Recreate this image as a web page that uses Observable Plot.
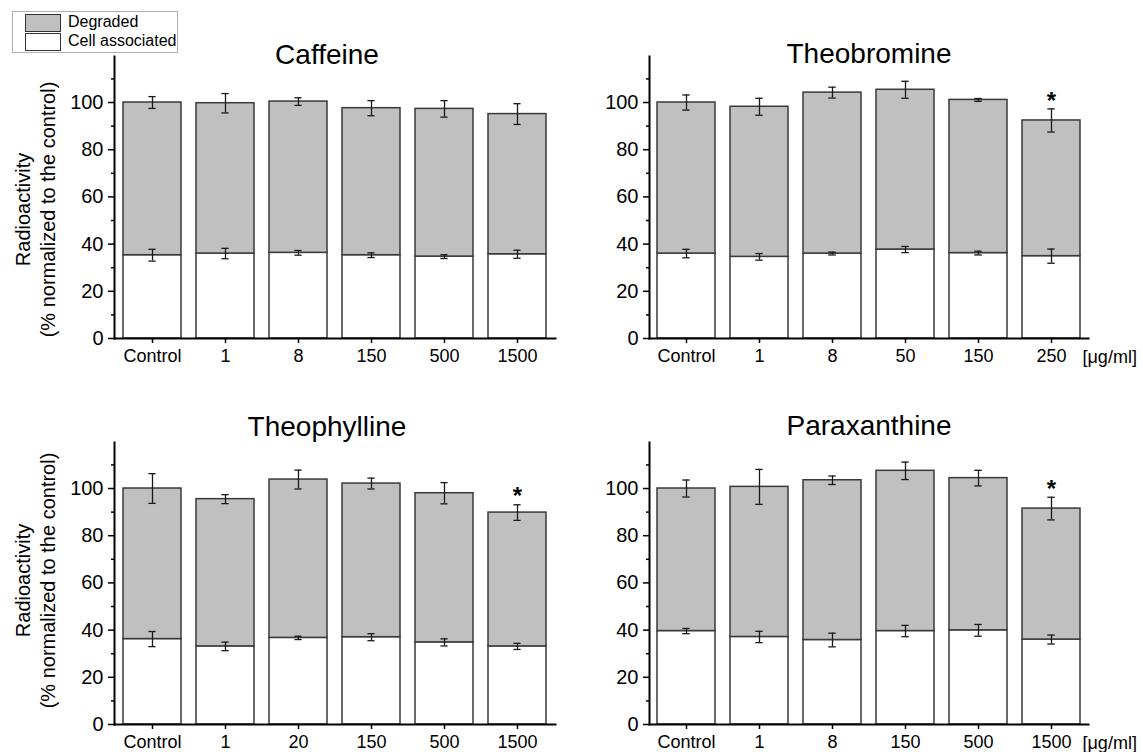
<!DOCTYPE html>
<html>
<head>
<meta charset="utf-8">
<script src="https://cdn.jsdelivr.net/npm/d3@7"></script>
<script src="https://cdn.jsdelivr.net/npm/@observablehq/plot@0.6"></script>
<style>
  html, body { margin: 0; padding: 0; background: #fff; }
  body { width: 1143px; height: 752px; position: relative; overflow: hidden;
         font-family: "Liberation Sans", Arial, sans-serif; color: #000; }
  .panel { position: absolute; }
  .legend { position: absolute; left: 12px; top: 11px; width: 166px; height: 42px;
            border: 1px solid #b0b0b0; background: #fff; box-sizing: border-box; }
  .sw { position: absolute; left: 12px; width: 36px; height: 18px; border: 1.5px solid #333; box-sizing: border-box; }
  .lt { position: absolute; left: 55px; font-size: 16px; line-height: 18px; white-space: nowrap; }
</style>
</head>
<body>
<div class="legend">
  <div class="sw" style="top:2px;background:#c0c0c0"></div><div class="lt" style="top:1px">Degraded</div>
  <div class="sw" style="top:21px;background:#fff"></div><div class="lt" style="top:20px">Cell associated</div>
</div>
<script>
// ---- Data ----
const caffeineDoses   = ["Control", "1", "8", "150", "500", "1500"];
const caffeineTotal   = [100, 99.7, 100.4, 97.6, 97.3, 95.1];
const caffeineTotalErr= [2.5, 4.1, 1.6, 3.2, 3.5, 4.4];
const caffeineCell    = [35.3, 36.0, 36.3, 35.3, 34.7, 35.7];
const caffeineCellErr = [2.5, 2.2, 1.0, 1.0, 0.8, 1.7];
const caffeineSig     = [false, false, false, false, false, false];

const theobromineDoses   = ["Control", "1", "8", "50", "150", "250"];
const theobromineTotal   = [100, 98.2, 104.2, 105.4, 101.1, 92.4];
const theobromineTotalErr= [3.2, 3.6, 2.3, 3.6, 0.6, 4.9];
const theobromineCell    = [36.0, 34.6, 36.0, 37.7, 36.2, 34.9];
const theobromineCellErr = [1.8, 1.4, 0.6, 1.3, 0.8, 3.0];
const theobromineSig     = [false, false, false, false, false, true];

const theophyllineDoses   = ["Control", "1", "20", "150", "500", "1500"];
const theophyllineTotal   = [100, 95.5, 103.8, 102.1, 98.0, 89.8];
const theophyllineTotalErr= [6.3, 1.9, 4.0, 2.3, 4.5, 3.3];
const theophyllineCell    = [36.2, 33.1, 36.7, 37.0, 34.8, 33.1];
const theophyllineCellErr = [3.2, 1.8, 0.7, 1.5, 1.5, 1.3];
const theophyllineSig     = [false, false, false, false, false, true];

const paraxanthineDoses   = ["Control", "1", "8", "150", "500", "1500"];
const paraxanthineTotal   = [100, 100.7, 103.5, 107.5, 104.4, 91.5];
const paraxanthineTotalErr= [3.6, 7.4, 1.8, 3.7, 3.3, 4.8];
const paraxanthineCell    = [39.6, 37.1, 35.8, 39.6, 39.9, 36.0];
const paraxanthineCellErr = [1.1, 2.4, 2.9, 2.4, 2.5, 1.9];
const paraxanthineSig     = [false, false, false, false, false, true];

const majorTicks = [0, 20, 40, 60, 80, 100];
const minorTicks = [10, 30, 50, 70, 90, 110];
const yLabel = "Radioactivity\n(% normalized to the control)";
const unitLabel = "[\u03bcg/ml]";

function rows(doses, total, totalErr, cell, cellErr, sig) {
  return doses.map((d, i) => ({dose: d, total: total[i], totalErr: totalErr[i],
    cell: cell[i], cellErr: cellErr[i], sig: sig[i]}));
}

const panels = [
  {title: "Caffeine", data: rows(caffeineDoses, caffeineTotal, caffeineTotalErr, caffeineCell, caffeineCellErr, caffeineSig),
   left: 0, top: 0, width: 571, mL: 114, mR: 16, yLab: true, unit: false, titleDy: 7, titleDx: -8, yLabDy: 12},
  {title: "Theobromine", data: rows(theobromineDoses, theobromineTotal, theobromineTotalErr, theobromineCell, theobromineCellErr, theobromineSig),
   left: 571, top: 0, width: 572, mL: 78, mR: 55, yLab: false, unit: true, titleDy: 6, titleDx: 0, yLabDy: 0},
  {title: "Theophylline", data: rows(theophyllineDoses, theophyllineTotal, theophyllineTotalErr, theophyllineCell, theophyllineCellErr, theophyllineSig),
   left: 0, top: 386, width: 571, mL: 114, mR: 16, yLab: true, unit: false, titleDy: -7, titleDx: -8, yLabDy: -3},
  {title: "Paraxanthine", data: rows(paraxanthineDoses, paraxanthineTotal, paraxanthineTotalErr, paraxanthineCell, paraxanthineCellErr, paraxanthineSig),
   left: 571, top: 386, width: 572, mL: 78, mR: 55, yLab: false, unit: true, titleDy: -8, titleDx: 0, yLabDy: 0}
];

const edge = "#3a3a3a";
const errColor = "#1a1a1a";

for (const p of panels) {
  const plotW = p.width - p.mL - p.mR;
  const step = plotW / 6;
  const bw = step * 0.8;
  const capInset = (bw - 8) / 2;
  const marks = [
    Plot.rectY(p.data, {x: "dose", y1: 0, y2: "cell", fill: "#ffffff", stroke: edge, strokeWidth: 1.5}),
    Plot.rectY(p.data, {x: "dose", y1: "cell", y2: "total", fill: "#c0c0c0", stroke: edge, strokeWidth: 1.5}),
    // error bars (total)
    Plot.ruleX(p.data, {x: "dose", y1: d => d.total - d.totalErr, y2: d => d.total + d.totalErr, stroke: errColor, strokeWidth: 1.3}),
    Plot.tickY(p.data, {x: "dose", y: d => d.total + d.totalErr, insetLeft: capInset, insetRight: capInset, stroke: errColor, strokeWidth: 1.3}),
    Plot.tickY(p.data, {x: "dose", y: d => d.total - d.totalErr, insetLeft: capInset, insetRight: capInset, stroke: errColor, strokeWidth: 1.3}),
    // error bars (cell associated)
    Plot.ruleX(p.data, {x: "dose", y1: d => d.cell - d.cellErr, y2: d => d.cell + d.cellErr, stroke: errColor, strokeWidth: 1.3}),
    Plot.tickY(p.data, {x: "dose", y: d => d.cell + d.cellErr, insetLeft: capInset, insetRight: capInset, stroke: errColor, strokeWidth: 1.3}),
    Plot.tickY(p.data, {x: "dose", y: d => d.cell - d.cellErr, insetLeft: capInset, insetRight: capInset, stroke: errColor, strokeWidth: 1.3}),
    // significance stars
    Plot.text(p.data.filter(d => d.sig), {x: "dose", y: d => d.total + d.totalErr, text: () => "*",
      fontSize: 24, fontWeight: "bold", lineAnchor: "middle", dy: -8}),
    // axes
    Plot.axisY(majorTicks, {tickSize: 6, tickPadding: 5, fontSize: 20, strokeWidth: 1.5, label: null}),
    Plot.axisY(minorTicks, {tickSize: 3, tickFormat: () => "", strokeWidth: 1.5, label: null}),
    Plot.axisX({tickSize: 5, tickPadding: 6, fontSize: 18, strokeWidth: 1.5, label: null}),
    Plot.frame({anchor: "left", stroke: "#000", strokeWidth: 2}),
    Plot.frame({anchor: "bottom", stroke: "#000", strokeWidth: 2}),
    // title
    Plot.text([p.title], {frameAnchor: "top", lineAnchor: "bottom", dy: p.titleDy, dx: p.titleDx, fontSize: 28})
  ];
  if (p.yLab) {
    marks.push(Plot.text([yLabel], {frameAnchor: "left", rotate: -90, textAnchor: "middle", lineAnchor: "middle",
      lineHeight: 1.25, dx: -80, dy: p.yLabDy, fontSize: 20}));
  }
  if (p.unit) {
    marks.push(Plot.text([unitLabel], {frameAnchor: "bottom-right", textAnchor: "start", lineAnchor: "middle",
      dx: -6, dy: 19, fontSize: 18}));
  }
  const chart = Plot.plot({
    width: p.width,
    height: 370,
    marginLeft: p.mL,
    marginRight: p.mR,
    marginTop: 56,
    marginBottom: 32,
    style: {fontFamily: "'Liberation Sans', Arial, sans-serif", color: "#000", background: "transparent", overflow: "visible"},
    x: {domain: p.data.map(d => d.dose), paddingInner: 0.2, paddingOuter: 0.1, axis: null},
    y: {domain: [0, 119.5], axis: null},
    marks
  });
  const holder = document.createElement("div");
  holder.className = "panel";
  holder.style.left = p.left + "px";
  holder.style.top = p.top + "px";
  holder.appendChild(chart);
  document.body.appendChild(holder);
}
</script>
</body>
</html>
